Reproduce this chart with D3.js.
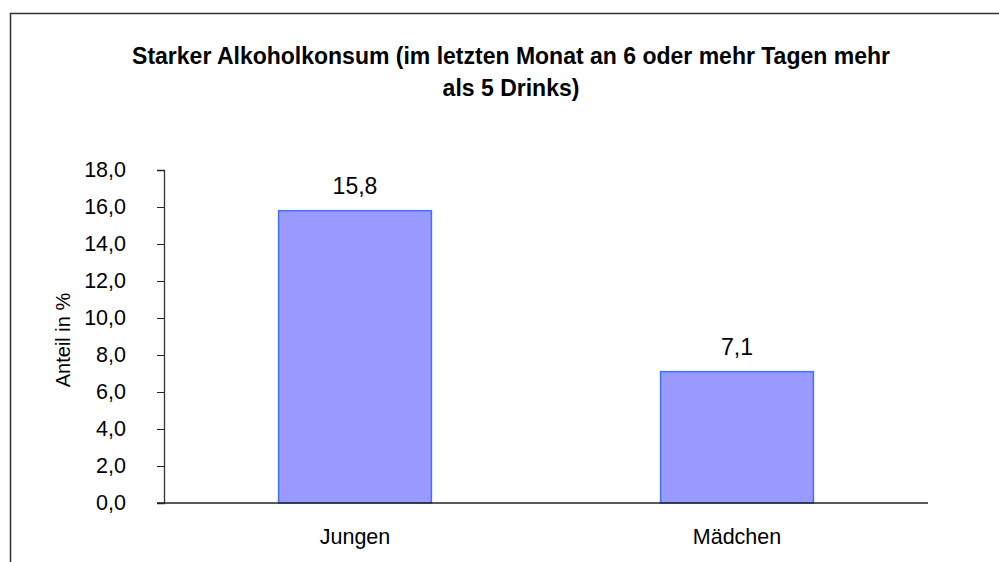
<!DOCTYPE html>
<html>
<head>
<meta charset="utf-8">
<script src="https://cdn.jsdelivr.net/npm/d3@7"></script>
<style>
  body { margin: 0; background: #fff; }
  svg { display: block; font-family: "Liberation Sans", Arial, sans-serif; }
</style>
</head>
<body>
<svg id="chart" width="999" height="562"></svg>
<script>
var categories = ["Jungen", "Mädchen"];
var values = [15.8, 7.1];
var yTicks = [0, 2, 4, 6, 8, 10, 12, 14, 16, 18];
var titleLines = ["Starker Alkoholkonsum (im letzten Monat an 6 oder mehr Tagen mehr", "als 5 Drinks)"];

var svg = d3.select("#chart");
var fmt = function(d) { return d.toFixed(1).replace(".", ","); };

// outer frame
svg.append("rect")
  .attr("x", 10.5).attr("y", 13.5)
  .attr("width", 1000).attr("height", 600)
  .attr("fill", "none").attr("stroke", "#333").attr("stroke-width", 1.5);

// title
svg.append("text")
  .attr("text-anchor", "middle")
  .style("font-size", "23px").style("font-weight", "bold")
  .selectAll("tspan").data(titleLines).enter().append("tspan")
    .attr("x", 511)
    .attr("y", function(d, i) { return 64 + i * 32; })
    .text(function(d) { return d; });

var x = d3.scaleBand()
  .domain(categories)
  .range([164, 928])
  .paddingInner(0.6)
  .paddingOuter(0.3);

var y = d3.scaleLinear()
  .domain([0, 18])
  .range([503, 170]);

// y axis
var yAxis = svg.append("g")
  .attr("transform", "translate(164,0)")
  .call(d3.axisLeft(y).tickValues(yTicks).tickFormat(fmt).tickSize(7).tickPadding(31));
yAxis.select(".domain").attr("stroke", "#333").attr("stroke-width", 1.3);
yAxis.selectAll(".tick line").attr("stroke", "#222");
yAxis.selectAll("text").style("font-size", "21.5px").attr("fill", "#000");

svg.append("text")
  .attr("transform", "translate(70,340) rotate(-90)")
  .attr("text-anchor", "middle")
  .style("font-size", "20px")
  .text("Anteil in %");

// bars
svg.selectAll("rect.bar")
  .data(values)
  .enter().append("rect")
    .attr("class", "bar")
    .attr("x", function(d, i) { return x(categories[i]); })
    .attr("y", function(d) { return y(d); })
    .attr("width", x.bandwidth())
    .attr("height", function(d) { return y(0) - y(d); })
    .attr("fill", "#9999ff")
    .attr("stroke", "#4070ff")
    .attr("stroke-width", 1.5);

// value labels
svg.selectAll("text.val")
  .data(values)
  .enter().append("text")
    .attr("class", "val")
    .attr("x", function(d, i) { return x(categories[i]) + x.bandwidth() / 2; })
    .attr("y", function(d) { return y(d) - 17; })
    .attr("text-anchor", "middle")
    .style("font-size", "23px")
    .text(fmt);

// x axis
var xAxis = svg.append("g")
  .attr("transform", "translate(0,503)")
  .call(d3.axisBottom(x).tickSize(0).tickPadding(26));
xAxis.select(".domain").attr("stroke", "#222").attr("stroke-width", 1.5)
  .attr("d", "M157,0H928");
xAxis.selectAll("text").style("font-size", "21.5px").attr("fill", "#000");
</script>
</body>
</html>
